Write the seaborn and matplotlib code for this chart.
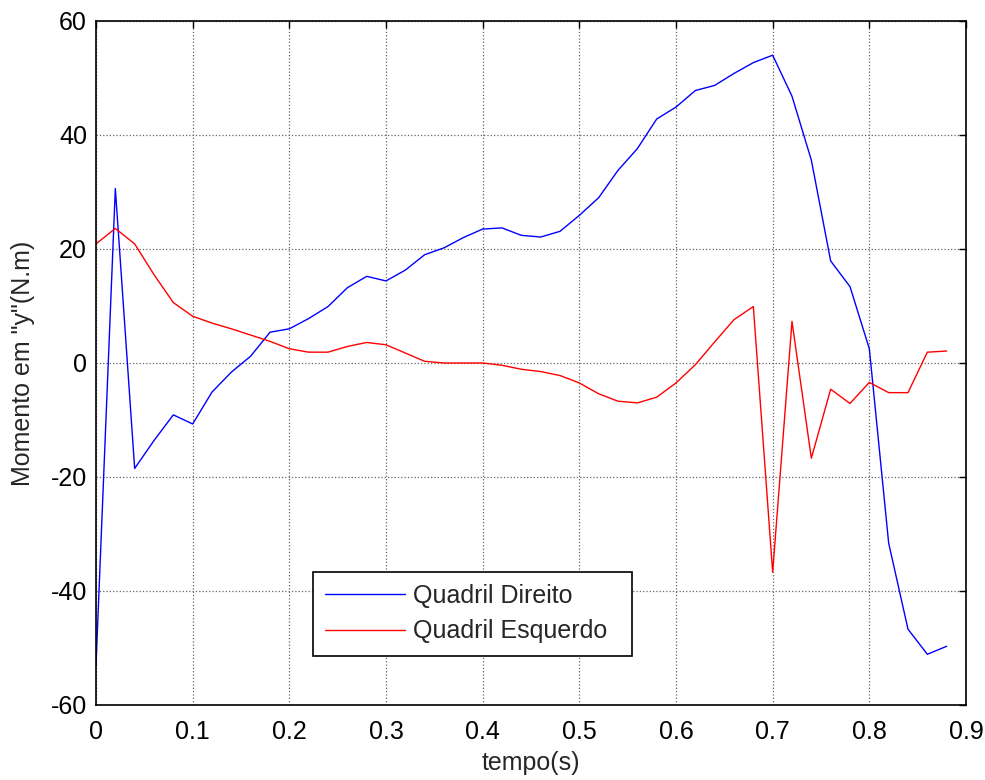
import numpy as np
import pandas as pd
import matplotlib
matplotlib.use("Agg")
import matplotlib.pyplot as plt
import seaborn as sns

tempo = [0.00, 0.02, 0.04, 0.06, 0.08, 0.10, 0.12, 0.14, 0.16, 0.18,
         0.20, 0.22, 0.24, 0.26, 0.28, 0.30, 0.32, 0.34, 0.36, 0.38,
         0.40, 0.42, 0.44, 0.46, 0.48, 0.50, 0.52, 0.54, 0.56, 0.58,
         0.60, 0.62, 0.64, 0.66, 0.68, 0.70, 0.72, 0.74, 0.76, 0.78,
         0.80, 0.82, 0.84, 0.86, 0.88]

quadril_direito = [-53.0, 30.6, -18.5, -13.6, -9.1, -10.7, -5.1, -1.6, 1.2, 5.4,
                   6.0, 7.8, 9.9, 13.2, 15.2, 14.4, 16.3, 19.0, 20.2, 22.0,
                   23.5, 23.7, 22.4, 22.1, 23.1, 25.9, 29.0, 33.8, 37.6, 42.8,
                   44.9, 47.8, 48.7, 50.8, 52.7, 54.0, 46.8, 35.6, 17.9, 13.4,
                   2.5, -31.6, -46.7, -51.1, -49.7]

quadril_esquerdo = [20.9, 23.6, 20.9, 15.5, 10.6, 8.2, 7.0, 6.0, 4.9, 3.8,
                    2.5, 1.9, 1.9, 2.9, 3.6, 3.2, 1.75, 0.3, 0.0, 0.0,
                    0.0, -0.4, -1.1, -1.5, -2.2, -3.5, -5.4, -6.7, -7.0, -6.0,
                    -3.5, -0.3, 3.7, 7.6, 9.9, -36.7, 7.3, -16.7, -4.6, -7.1,
                    -3.4, -5.2, -5.2, 1.9, 2.1]

series_names = ["Quadril Direito", "Quadril Esquerdo"]
x_ticks = [0, 0.1, 0.2, 0.3, 0.4, 0.5, 0.6, 0.7, 0.8, 0.9]
x_tick_labels = ["0", "0.1", "0.2", "0.3", "0.4", "0.5", "0.6", "0.7", "0.8", "0.9"]
y_ticks = [-60, -40, -20, 0, 20, 40, 60]
y_tick_labels = ["-60", "-40", "-20", "0", "20", "40", "60"]

df = pd.DataFrame({
    "tempo": tempo * 2,
    "valor": quadril_direito + quadril_esquerdo,
    "serie": [series_names[0]] * len(tempo) + [series_names[1]] * len(tempo),
})

sns.set_style("white")
plt.rcParams["font.family"] = ["Liberation Sans", "DejaVu Sans"]

FS = 18

fig = plt.figure(figsize=(9.85, 7.8), dpi=100)
ax = fig.add_axes([96 / 985, 1 - 705 / 780, 870 / 985, 684 / 780])

sns.lineplot(data=df, x="tempo", y="valor", hue="serie",
             palette={series_names[0]: "#0000ff", series_names[1]: "#ff0000"},
             linewidth=1.0, ax=ax, legend=True, sort=False)

ax.set_xlim(0, 0.9)
ax.set_ylim(-60, 60)
ax.set_xticks(x_ticks)
ax.set_xticklabels(x_tick_labels)
ax.set_yticks(y_ticks)
ax.set_yticklabels(y_tick_labels)
ax.grid(True, linestyle=":", color="#666666", linewidth=0.9)
ax.set_axisbelow(True)
for sp in ax.spines.values():
    sp.set_visible(True)
    sp.set_color("black")
    sp.set_linewidth(1.2)
ax.tick_params(direction="in", length=5, width=1.0, top=True, right=True,
               labelsize=FS, colors="black")
ax.tick_params(axis="x", pad=11)
ax.tick_params(axis="y", pad=6.5)
ax.set_xlabel("tempo(s)", fontsize=FS, labelpad=5)
ax.set_ylabel('Momento em "y"(N.m)', fontsize=FS, labelpad=11)

leg = ax.legend(loc="lower left", bbox_to_anchor=(0.249, 0.072, 0.367, 0.123),
                mode="expand", fontsize=FS, frameon=True, fancybox=False,
                handlelength=3.2, borderaxespad=0, borderpad=0.5,
                labelspacing=0.45, handletextpad=0.3)
leg.get_frame().set_edgecolor("black")
leg.get_frame().set_linewidth(1.2)
leg.get_frame().set_alpha(1)

fig.savefig("out.png", dpi=100, facecolor="white")
